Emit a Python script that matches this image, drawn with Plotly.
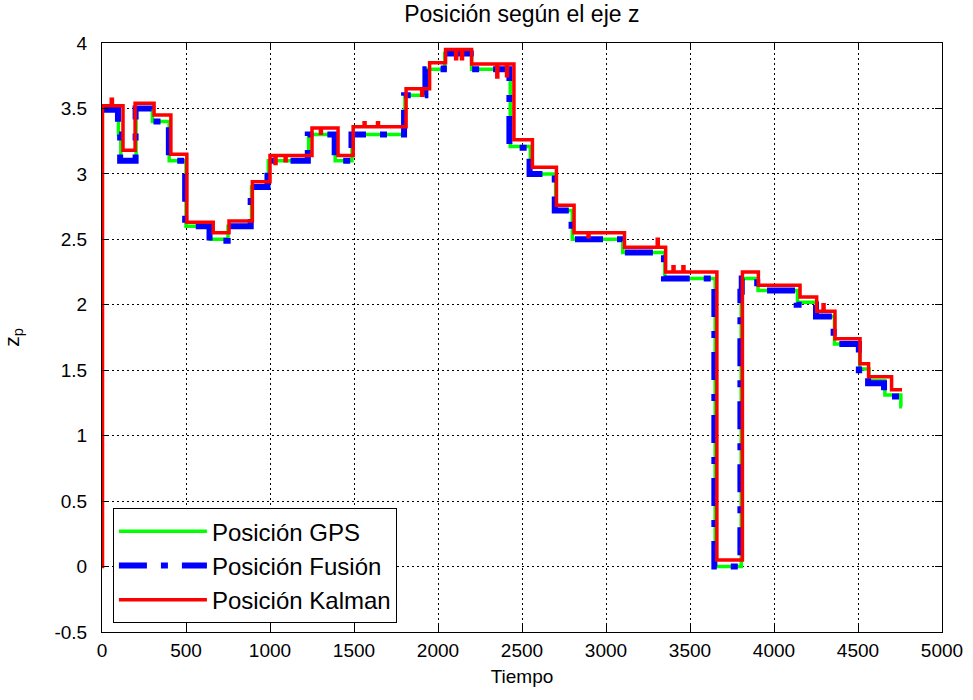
import plotly.graph_objects as go

# ---------------- data ----------------
gps_t = [0, 98, 112, 203, 300, 400, 500, 645, 750, 890, 990, 1230, 1388, 1488, 1803,
         1930, 2040, 2200, 2430, 2550, 2700, 2800, 3100, 3350, 3650, 3805, 3812, 3905,
         4140, 4255, 4360, 4510, 4565, 4660, 4755, 4762]
gps_z = [3.5, 3.3, 3.1, 3.5, 3.4, 3.1, 2.6, 2.5, 2.6, 2.9, 3.1, 3.3, 3.1, 3.3, 3.6,
         3.8, 3.92, 3.8, 3.21, 3.0, 2.72, 2.5, 2.4, 2.2, 0.0, 2.1, 2.2, 2.11,
         2.02, 1.91, 1.7, 1.51, 1.42, 1.31, 1.22, 1.22]

fus_t = [0, 95, 108, 200, 295, 398, 495, 640, 748, 885, 985, 1225, 1385, 1485, 1798,
         1925, 2035, 2195, 2425, 2545, 2695, 2795, 3095, 3345, 3645, 3800, 3808, 3900,
         4135, 4250, 4355, 4505, 4560, 4655, 4750, 4762]
fus_z = [3.49, 3.3, 3.1, 3.5, 3.4, 3.1, 2.6, 2.49, 2.6, 2.9, 3.1, 3.3, 3.1, 3.3, 3.6,
         3.8, 3.92, 3.8, 3.2, 3.0, 2.72, 2.5, 2.4, 2.2, 0.0, 2.1, 2.2, 2.11,
         2.0, 1.91, 1.7, 1.5, 1.4, 1.3, 1.22, 1.22]

kal_t = [0, 3, 55, 62, 125, 197, 310, 410, 505, 662, 756, 895, 1000, 1030, 1036, 1090, 1096,
         1250, 1300, 1306, 1405, 1495, 1560, 1566, 1640, 1646, 1810, 1903, 1909, 1950, 2045,
         2105, 2111, 2140, 2146, 2200, 2350, 2356, 2408, 2414, 2452, 2562, 2705, 2810,
         2893, 2899, 3110, 3305, 3311, 3355, 3399, 3405, 3458, 3464, 3660, 3812, 3907,
         4155, 4254, 4292, 4298, 4363, 4512, 4563, 4700, 4762]
kal_z = [0.0, 3.52, 3.57, 3.52, 3.18, 3.54, 3.45, 3.15, 2.63, 2.55, 2.64, 2.94, 3.14, 3.08, 3.14, 3.1, 3.14,
         3.35, 3.31, 3.35, 3.14, 3.36, 3.39, 3.36, 3.39, 3.36, 3.65, 3.6, 3.65, 3.85, 3.95,
         3.88, 3.95, 3.88, 3.95, 3.84, 3.74, 3.84, 3.75, 3.84, 3.26, 3.05, 2.76, 2.55,
         2.52, 2.55, 2.44, 2.5, 2.44, 2.25, 2.29, 2.25, 2.29, 2.25, 0.05, 2.25, 2.15,
         2.06, 1.95, 2.0, 1.95, 1.74, 1.55, 1.45, 1.35, 1.35]

x_ticks = [0, 500, 1000, 1500, 2000, 2500, 3000, 3500, 4000, 4500, 5000]
x_labels = ["0", "500", "1000", "1500", "2000", "2500", "3000", "3500", "4000", "4500", "5000"]
y_ticks = [-0.5, 0, 0.5, 1, 1.5, 2, 2.5, 3, 3.5, 4]
y_labels = ["-0.5", "0", "0.5", "1", "1.5", "2", "2.5", "3", "3.5", "4"]

FONT = "Liberation Sans, Arial, Helvetica, sans-serif"

fig = go.Figure()
fig.add_trace(go.Scatter(x=gps_t, y=gps_z, mode="lines", name="Posición GPS",
                         line=dict(color="#00ff00", width=3.5, shape="hv"),
                         legendgroup="a"))
fig.add_trace(go.Scatter(x=fus_t, y=fus_z, mode="lines", name="Posición Fusión",
                         line=dict(color="#0000ff", width=6, shape="hv",
                                   dash="28px,14px,7px,14px"),
                         legendgroup="b"))
fig.add_trace(go.Scatter(x=kal_t, y=kal_z, mode="lines", name="Posición Kalman",
                         line=dict(color="#ff0000", width=3.5, shape="hv"),
                         legendgroup="c"))

axis_common = dict(
    showline=True, linecolor="black", linewidth=1, mirror="ticks",
    ticks="inside", ticklen=7, tickcolor="black", tickwidth=1,
    showgrid=True, gridcolor="black", gridwidth=1, griddash="2px,3px",
    zeroline=False, tickfont=dict(family=FONT, size=19, color="black"),
)

fig.update_layout(
    width=973, height=700,
    margin=dict(l=102, r=31, t=43, b=68, autoexpand=False),
    paper_bgcolor="white", plot_bgcolor="white",
    title=dict(text="Posición según el eje z", x=0.5363, xanchor="center",
               y=1 - 14 / 700, yanchor="middle", yref="container",
               font=dict(family=FONT, size=23, color="black")),
    xaxis=dict(range=[0, 5000], tickmode="array", tickvals=x_ticks, ticktext=x_labels,
               ticklabelstandoff=1,
               title=dict(text="Tiempo", standoff=9,
                          font=dict(family=FONT, size=19, color="black")),
               **axis_common),
    yaxis=dict(range=[-0.5, 4], tickmode="array", tickvals=y_ticks, ticktext=y_labels,
               ticklabelstandoff=10,
               title=dict(text="z<sub>p</sub>", standoff=32,
                          font=dict(family=FONT, size=21, color="black")),
               **axis_common),
    legend=dict(x=0.013, y=0.015, xanchor="left", yanchor="bottom",
                bgcolor="white", bordercolor="black", borderwidth=1,
                font=dict(family=FONT, size=24, color="black"),
                traceorder="grouped", tracegroupgap=0, itemwidth=88),
    showlegend=True,
)

fig.write_html("out.html")
